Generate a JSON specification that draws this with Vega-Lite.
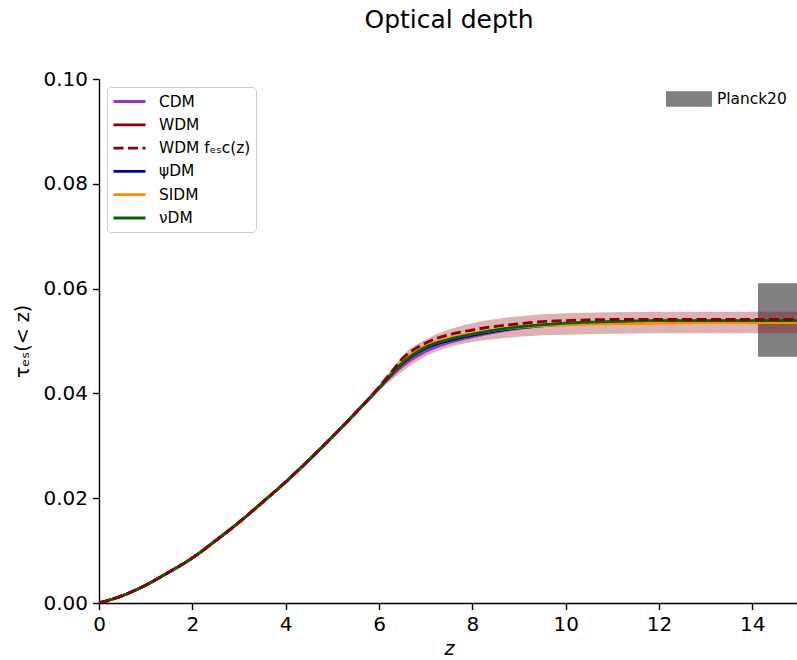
{
  "$schema": "https://vega.github.io/schema/vega-lite/v6.json",
  "width": 700,
  "height": 524,
  "autosize": {"type": "none"},
  "padding": {"left": 99, "top": 79, "right": 0, "bottom": 57},
  "background": "white",
  "title": {"text": "Optical depth", "font": "DejaVu Sans", "fontSize": 25, "fontWeight": "normal", "color": "black", "anchor": "middle", "offset": 36},
  "config": {
    "view": {"stroke": null},
    "font": "DejaVu Sans",
    "axis": {"domainColor": "black", "domainWidth": 1.4, "tickColor": "black", "tickWidth": 1.4, "tickSize": 6.5, "labelPadding": 5, "labelColor": "black", "labelFont": "DejaVu Sans", "labelFontSize": 20, "titleFont": "DejaVu Sans", "titleFontSize": 19, "titleFontWeight": "normal", "titleColor": "black", "grid": false, "labelFlush": false}
  },
  "datasets": {
    "curves": [
      {"z": 0, "CDM": 0, "WDM": 0, "WDMf": 0, "psiDM": 0, "SIDM": 0, "nuDM": 0},
      {"z": 0.5, "CDM": 0.0014, "WDM": 0.0014, "WDMf": 0.0014, "psiDM": 0.0014, "SIDM": 0.0014, "nuDM": 0.0014},
      {"z": 1, "CDM": 0.0034, "WDM": 0.0034, "WDMf": 0.0034, "psiDM": 0.0034, "SIDM": 0.0034, "nuDM": 0.0034},
      {"z": 1.5, "CDM": 0.0059, "WDM": 0.0059, "WDMf": 0.0059, "psiDM": 0.0059, "SIDM": 0.0059, "nuDM": 0.0059},
      {"z": 2, "CDM": 0.0086, "WDM": 0.0086, "WDMf": 0.0086, "psiDM": 0.0086, "SIDM": 0.0086, "nuDM": 0.0086},
      {"z": 2.5, "CDM": 0.0119, "WDM": 0.0119, "WDMf": 0.0119, "psiDM": 0.0119, "SIDM": 0.0119, "nuDM": 0.0119},
      {"z": 3, "CDM": 0.0154, "WDM": 0.0154, "WDMf": 0.0154, "psiDM": 0.0154, "SIDM": 0.0154, "nuDM": 0.0154},
      {"z": 3.5, "CDM": 0.0192, "WDM": 0.0192, "WDMf": 0.0192, "psiDM": 0.0192, "SIDM": 0.0192, "nuDM": 0.0192},
      {"z": 4, "CDM": 0.0231, "WDM": 0.0231, "WDMf": 0.0231, "psiDM": 0.0231, "SIDM": 0.0231, "nuDM": 0.0231},
      {"z": 4.5, "CDM": 0.0273, "WDM": 0.0273, "WDMf": 0.0273, "psiDM": 0.0273, "SIDM": 0.0273, "nuDM": 0.0273},
      {"z": 5, "CDM": 0.0317, "WDM": 0.0317, "WDMf": 0.0317, "psiDM": 0.0317, "SIDM": 0.0317, "nuDM": 0.0317},
      {"z": 5.5, "CDM": 0.0363, "WDM": 0.0363, "WDMf": 0.0363, "psiDM": 0.0363, "SIDM": 0.0363, "nuDM": 0.0363},
      {"z": 6, "CDM": 0.041, "WDM": 0.041, "WDMf": 0.0412, "psiDM": 0.041, "SIDM": 0.041, "nuDM": 0.041},
      {"z": 6.25, "CDM": 0.0432, "WDM": 0.0435, "WDMf": 0.0439, "psiDM": 0.0435, "SIDM": 0.0437, "nuDM": 0.0435},
      {"z": 6.5, "CDM": 0.0452, "WDM": 0.0458, "WDMf": 0.0466, "psiDM": 0.0457, "SIDM": 0.0461, "nuDM": 0.0458},
      {"z": 7, "CDM": 0.048, "WDM": 0.0487, "WDMf": 0.0496, "psiDM": 0.0486, "SIDM": 0.0491, "nuDM": 0.0488},
      {"z": 7.5, "CDM": 0.0497, "WDM": 0.0502, "WDMf": 0.0512, "psiDM": 0.0501, "SIDM": 0.0505, "nuDM": 0.0503},
      {"z": 8, "CDM": 0.0508, "WDM": 0.0512, "WDMf": 0.0521, "psiDM": 0.0511, "SIDM": 0.0514, "nuDM": 0.0513},
      {"z": 8.5, "CDM": 0.0517, "WDM": 0.052, "WDMf": 0.0528, "psiDM": 0.0519, "SIDM": 0.0521, "nuDM": 0.0521},
      {"z": 9, "CDM": 0.0524, "WDM": 0.0526, "WDMf": 0.0533, "psiDM": 0.0525, "SIDM": 0.0526, "nuDM": 0.0527},
      {"z": 9.5, "CDM": 0.0529, "WDM": 0.053, "WDMf": 0.0537, "psiDM": 0.0529, "SIDM": 0.0529, "nuDM": 0.0531},
      {"z": 10, "CDM": 0.0532, "WDM": 0.0533, "WDMf": 0.0539, "psiDM": 0.0532, "SIDM": 0.0531, "nuDM": 0.0534},
      {"z": 11, "CDM": 0.0535, "WDM": 0.0536, "WDMf": 0.0541, "psiDM": 0.0534, "SIDM": 0.0533, "nuDM": 0.0537},
      {"z": 12, "CDM": 0.0536, "WDM": 0.0538, "WDMf": 0.0541, "psiDM": 0.0535, "SIDM": 0.0534, "nuDM": 0.0539},
      {"z": 13, "CDM": 0.0537, "WDM": 0.0538, "WDMf": 0.0541, "psiDM": 0.0535, "SIDM": 0.0535, "nuDM": 0.0539},
      {"z": 14, "CDM": 0.0537, "WDM": 0.0538, "WDMf": 0.0541, "psiDM": 0.0535, "SIDM": 0.0535, "nuDM": 0.0539},
      {"z": 15, "CDM": 0.0537, "WDM": 0.0538, "WDMf": 0.0541, "psiDM": 0.0535, "SIDM": 0.0535, "nuDM": 0.0539}
    ],
    "band": [
      {"z": 5.5, "lo": 0.0362, "hi": 0.0365},
      {"z": 6, "lo": 0.0405, "hi": 0.0417},
      {"z": 6.25, "lo": 0.0424, "hi": 0.0443},
      {"z": 6.5, "lo": 0.0442, "hi": 0.0472},
      {"z": 7, "lo": 0.0471, "hi": 0.0503},
      {"z": 7.5, "lo": 0.0488, "hi": 0.0522},
      {"z": 8, "lo": 0.0498, "hi": 0.0534},
      {"z": 8.5, "lo": 0.0504, "hi": 0.0542},
      {"z": 9, "lo": 0.0508, "hi": 0.0547},
      {"z": 9.5, "lo": 0.0511, "hi": 0.0551},
      {"z": 10, "lo": 0.0512, "hi": 0.0553},
      {"z": 11, "lo": 0.0514, "hi": 0.0555},
      {"z": 12, "lo": 0.0515, "hi": 0.0556},
      {"z": 13, "lo": 0.0515, "hi": 0.0556},
      {"z": 15, "lo": 0.0515, "hi": 0.0556}
    ],
    "planck": [
      {"name": "Planck20", "z0": 14.12, "z1": 15, "lo": 0.047, "hi": 0.061}
    ]
  },
  "layer": [
    {
      "data": {"name": "planck"},
      "mark": {"type": "rect", "clip": true},
      "encoding": {
        "x": {"field": "z0", "type": "quantitative", "scale": {"domain": [0, 15], "nice": false}, "axis": {"values": [0, 2, 4, 6, 8, 10, 12, 14], "title": "z", "titleFontStyle": "italic", "titlePadding": 5}},
        "x2": {"field": "z1"},
        "y": {"field": "lo", "type": "quantitative", "scale": {"domain": [0, 0.1], "nice": false}, "axis": {"values": [0, 0.02, 0.04, 0.06, 0.08, 0.1], "format": ".2f", "title": "τₑₛ(< z)", "titlePadding": 10}},
        "y2": {"field": "hi"},
        "fill": {"field": "name", "type": "nominal", "scale": {"domain": ["Planck20"], "range": ["#808080"]},
          "legend": {"title": null, "orient": "top-right", "offset": 10, "padding": 2, "symbolType": "M-3,-1H3V1H-3Z", "symbolSize": 235, "symbolStrokeWidth": 0, "symbolOpacity": 1, "labelFontSize": 15.4, "labelColor": "black", "labelOffset": 20}}
      }
    },
    {
      "data": {"name": "band"},
      "mark": {"type": "area", "fill": "#8B0000", "opacity": 0.3, "interpolate": "monotone", "clip": true},
      "encoding": {
        "x": {"field": "z", "type": "quantitative"},
        "y": {"field": "lo", "type": "quantitative"},
        "y2": {"field": "hi"}
      }
    },
    {
      "data": {"name": "curves"},
      "transform": [{"fold": ["CDM", "WDM", "psiDM", "SIDM", "nuDM"], "as": ["model", "tau"]}],
      "mark": {"type": "line", "strokeWidth": 2.8, "interpolate": "monotone", "clip": true},
      "encoding": {
        "x": {"field": "z", "type": "quantitative"},
        "y": {"field": "tau", "type": "quantitative"},
        "stroke": {"field": "model", "type": "nominal",
          "scale": {"domain": ["CDM", "WDM", "WDMf", "psiDM", "SIDM", "nuDM"], "range": ["#9932CC", "#8B0000", "#8B0000", "#00008B", "#FF8C00", "#006400"]},
          "legend": {"title": null, "orient": "top-left", "offset": 8, "padding": 5, "strokeColor": "#cccccc", "fillColor": "rgba(255,255,255,0.8)", "cornerRadius": 4, "symbolType": "M-1,0H3", "symbolSize": 256, "symbolStrokeWidth": 2.8, "labelFontSize": 15.4, "labelColor": "black", "labelOffset": 28, "rowPadding": 5.3,
            "labelExpr": "datum.label == 'WDMf' ? 'WDM fₑₛc(z)' : datum.label == 'psiDM' ? 'ψDM' : datum.label == 'nuDM' ? 'νDM' : datum.label"}},
        "strokeDash": {"field": "model", "type": "nominal",
          "scale": {"domain": ["CDM", "WDM", "WDMf", "psiDM", "SIDM", "nuDM"], "range": [[1, 0], [1, 0], [10, 4.5], [1, 0], [1, 0], [1, 0]]},
          "legend": null}
      }
    },
    {
      "data": {"name": "curves"},
      "transform": [{"fold": ["WDMf"], "as": ["model", "tau"]}],
      "mark": {"type": "line", "strokeWidth": 2.8, "interpolate": "monotone", "clip": true},
      "encoding": {
        "x": {"field": "z", "type": "quantitative"},
        "y": {"field": "tau", "type": "quantitative"},
        "stroke": {"field": "model", "type": "nominal"},
        "strokeDash": {"field": "model", "type": "nominal"}
      }
    }
  ]
}
